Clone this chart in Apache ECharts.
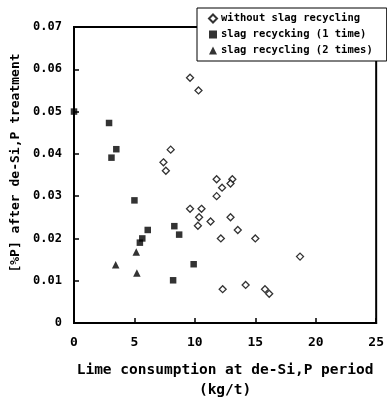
<!DOCTYPE html>
<html><head><meta charset="utf-8">
<script src="https://cdn.jsdelivr.net/npm/echarts@6/dist/echarts.min.js"></script>
<style>html,body{margin:0;padding:0;background:#fff}#c{width:387px;height:405px}</style>
</head><body><div id="c"></div>
<script>
const seriesNames = ["without slag recycling", "slag recycking (1 time)", "slag recycling (2 times)"];
const noRecycleX = [9.6, 10.3, 8.0, 7.4, 7.6, 11.8, 13.1, 12.95, 12.25, 11.8, 9.6, 10.55, 10.35, 11.3, 12.95, 10.25, 13.55, 12.15, 15.0, 18.7, 12.3, 14.2, 15.8, 16.15];
const noRecycleY = [0.058, 0.055, 0.041, 0.038, 0.036, 0.034, 0.034, 0.033, 0.032, 0.030, 0.027, 0.027, 0.025, 0.024, 0.025, 0.023, 0.022, 0.020, 0.020, 0.0157, 0.008, 0.009, 0.008, 0.0069];
const onceX = [0, 2.9, 3.5, 3.1, 5.0, 6.1, 5.65, 5.45, 8.3, 8.7, 9.9, 8.2];
const onceY = [0.050, 0.0473, 0.0411, 0.0391, 0.029, 0.022, 0.020, 0.019, 0.0229, 0.0209, 0.0139, 0.0101];
const twiceX = [5.15, 3.45, 5.2];
const twiceY = [0.0168, 0.0138, 0.0118];
const xTitle = "Lime consumption at de-Si,P period\n(kg/t)";
const yTitle = "[%P] after de-Si,P treatment";

const pairs = (xs, ys) => xs.map((x, i) => [x, ys[i]]);
const FONT = "DejaVu Sans Mono";

const chart = echarts.init(document.getElementById('c'), null, {renderer: 'canvas'});
chart.setOption({
  animation: false,
  backgroundColor: '#fff',
  grid: {left: 74, right: 8, top: 27, bottom: 79, show: true, borderColor: '#000', borderWidth: 2, backgroundColor: 'transparent'},
  legend: {
    orient: 'vertical', left: 197, top: 8,
    padding: [5, 14, 5, 11], itemGap: 5,
    itemWidth: 8, itemHeight: 8,
    backgroundColor: '#fff', borderColor: '#000', borderWidth: 1,
    textStyle: {fontFamily: FONT, fontWeight: 'bold', fontSize: 10.5, color: '#000', padding: [0, 0, 0, -1]},
    data: seriesNames, z: 10
  },
  xAxis: {
    type: 'value', min: 0, max: 25, interval: 5,
    name: xTitle, nameLocation: 'middle', nameGap: 37,
    nameTextStyle: {fontFamily: FONT, fontWeight: 'bold', fontSize: 14.5, color: '#000', lineHeight: 20},
    axisLine: {show: true, lineStyle: {color: '#000', width: 2}},
    axisTick: {show: true, inside: true, length: 5, lineStyle: {color: '#000', width: 1.5}},
    axisLabel: {margin: 13, fontFamily: FONT, fontWeight: 'bold', fontSize: 13, color: '#000'},
    splitLine: {show: false}
  },
  yAxis: {
    type: 'value', min: 0, max: 0.07, interval: 0.01,
    name: yTitle, nameLocation: 'middle', nameGap: 51,
    nameTextStyle: {fontFamily: FONT, fontWeight: 'bold', fontSize: 13, color: '#000', padding: [0, 0, 0, 24]},
    axisLine: {show: true, lineStyle: {color: '#000', width: 2}},
    axisTick: {show: true, inside: true, length: 5, lineStyle: {color: '#000', width: 1.5}},
    axisLabel: {margin: 12, fontFamily: FONT, fontWeight: 'bold', fontSize: 12, color: '#000'},
    splitLine: {show: false}
  },
  series: [
    {name: seriesNames[0], type: 'scatter', symbol: 'diamond', symbolSize: 7,
     itemStyle: {color: '#fff', borderColor: '#000', borderWidth: 1.3},
     data: pairs(noRecycleX, noRecycleY)},
    {name: seriesNames[1], type: 'scatter', symbol: 'rect', symbolSize: 6.5,
     itemStyle: {color: '#000'}, data: pairs(onceX, onceY)},
    {name: seriesNames[2], type: 'scatter', symbol: 'triangle', symbolSize: 7.5,
     itemStyle: {color: '#000'}, data: pairs(twiceX, twiceY)}
  ]
});
</script>
</body></html>
